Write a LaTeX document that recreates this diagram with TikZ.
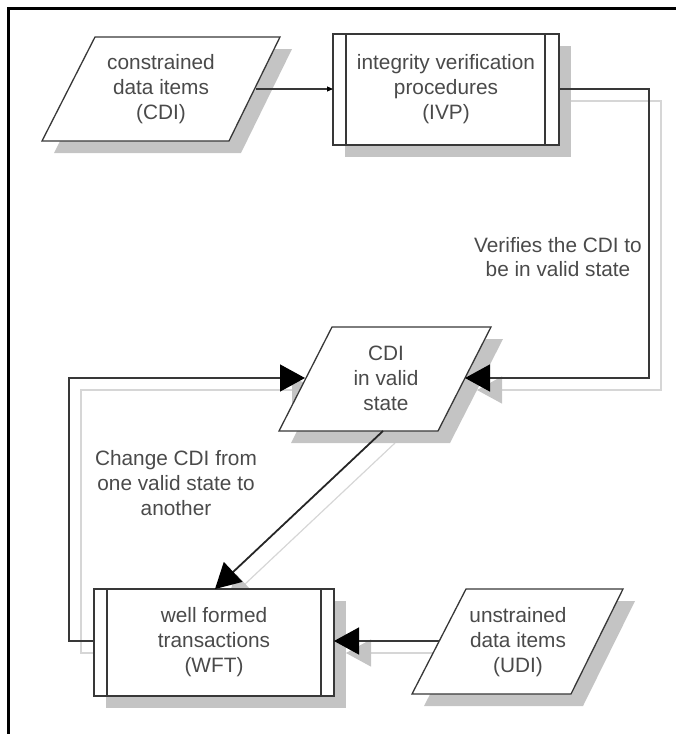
\documentclass[tikz,border=0pt]{standalone}
\usepackage{fontspec}
\setmainfont{Liberation Sans}
\usetikzlibrary{arrows.meta}
\definecolor{ln}{HTML}{383838}
\definecolor{sh}{HTML}{C4C4C4}
\definecolor{csh}{HTML}{D6D6D6}
\definecolor{tx}{HTML}{4A4A4A}
\begin{document}
\begin{tikzpicture}[x=1pt,y=-1pt,
  shapeline/.style={draw=ln, line width=1.3pt, fill=white},
  shadowfill/.style={fill=sh, draw=none},
  conn/.style={draw=ln, line width=1.4pt, -{Triangle[length=25pt,width=27pt,color=black]}},
  connshadow/.style={draw=csh, line width=1.2pt, -{Triangle[length=25pt,width=27pt,color=sh]}},
  smallconn/.style={draw=ln, line width=1.1pt, -{Triangle[length=6pt,width=5pt,color=black]}},
  lbl/.style={text=tx, align=center, font=\fontsize{20.8}{25}\selectfont, inner sep=0pt}
]
\useasboundingbox (0,0) rectangle (676,734);
% frame
\draw[line width=2.5pt, black] (8.5,734) -- (8.5,8.5) -- (676,8.5);

% connector end points
\coordinate (cdiE) at (256,89);
\coordinate (ivpW) at (333,89);
\coordinate (ivpE) at (559,89);
\coordinate (rc1) at (649,89);
\coordinate (rc2) at (649,378);
\coordinate (validE) at (465,378);
\coordinate (validW) at (305,378);
\coordinate (lc1) at (69,378);
\coordinate (lc2) at (69,641);
\coordinate (wftW) at (94,641);
\coordinate (wftE) at (334,641);
\coordinate (udiW) at (439,641);
\coordinate (validS) at (383,431);
\coordinate (wftN) at (215,589);

% connector shadows
\draw[connshadow] ([shift={(12,12)}]ivpE) -- ([shift={(12,12)}]rc1) -- ([shift={(12,12)}]rc2) -- ([shift={(12,12)}]validE);
\draw[connshadow] ([shift={(12,12)}]wftW) -- ([shift={(12,12)}]lc2) -- ([shift={(12,12)}]lc1) -- ([shift={(12,12)}]validW);
\draw[connshadow] ([shift={(12,12)}]validS) -- ([shift={(12,12)}]wftN);
\draw[connshadow] ([shift={(12,12)}]udiW) -- ([shift={(12,12)}]wftE);

% shape shadows
\begin{scope}[shift={(12,12)}]
  \fill[sh] (95,37) -- (280,37) -- (229,141) -- (42,141) -- cycle;
  \fill[sh] (333,34) rectangle (559,145);
  \fill[sh] (332,327) -- (491,327) -- (438,431) -- (279,431) -- cycle;
  \fill[sh] (94,589) rectangle (334,696);
  \fill[sh] (466,589) -- (623,589) -- (571,694) -- (412,694) -- cycle;
\end{scope}

% shapes
\draw[shapeline] (95,37) -- (280,37) -- (229,141) -- (42,141) -- cycle;
\draw[shapeline] (333,34) rectangle (559,145);
\draw[draw=ln, line width=1.3pt] (346,34) -- (346,145) (545,34) -- (545,145);
\draw[shapeline] (332,327) -- (491,327) -- (438,431) -- (279,431) -- cycle;
\draw[shapeline] (94,589) rectangle (334,696);
\draw[draw=ln, line width=1.3pt] (107,589) -- (107,696) (321,589) -- (321,696);
\draw[shapeline] (466,589) -- (623,589) -- (571,694) -- (412,694) -- cycle;

% texts
\node[lbl] (cdi) at (161,89) {constrained\\data items\\(CDI)};
\node[lbl] (ivp) at (446,89) {integrity verification\\procedures\\(IVP)};
\node[lbl] (valid) at (386,378) {CDI\\in valid\\state};
\node[lbl] (wft) at (214,642) {well formed\\transactions\\(WFT)};
\node[lbl] (udi) at (518,642) {unstrained\\data items\\(UDI)};
\node[lbl, font=\fontsize{20.8}{23.5}\selectfont] (verify) at (558,257) {Verifies the CDI to\\be in valid state};
\node[lbl] (change) at (176,483) {Change CDI from\\one valid state to\\another};

% connectors
\draw[smallconn] (cdiE) -- (ivpW);
\draw[conn] (ivpE) -- (rc1) -- (rc2) -- (validE);
\draw[conn] (wftW) -- (lc2) -- (lc1) -- (validW);
\draw[conn, draw=black!85, line width=1.8pt] (validS) -- (wftN);
\draw[conn] (udiW) -- (wftE);
\end{tikzpicture}
\end{document}
